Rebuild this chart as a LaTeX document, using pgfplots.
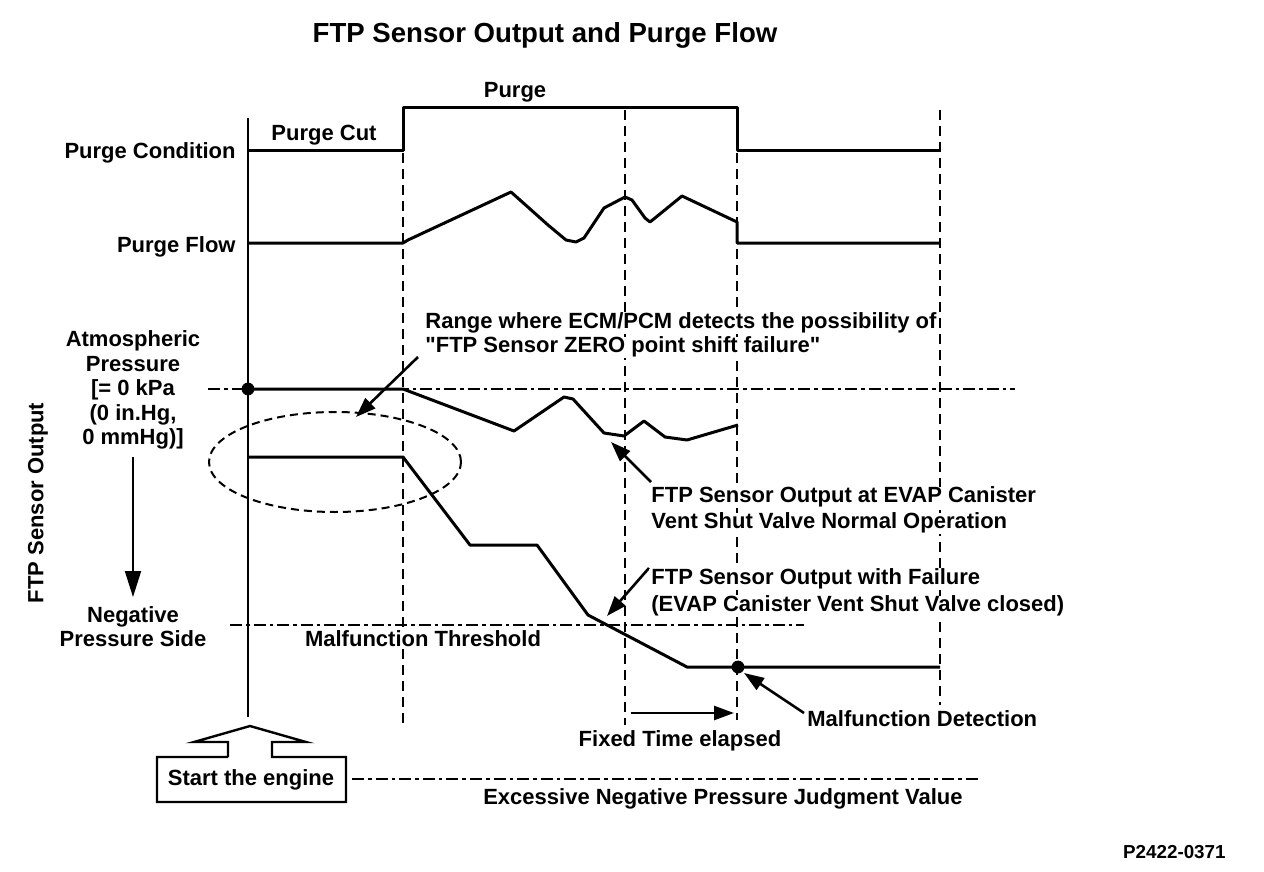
\documentclass[border=0pt]{standalone}
\usepackage{fontspec}
\setmainfont{Liberation Sans}[Ligatures=TeXOff]
\usepackage{pgfplots}
\pgfplotsset{compat=1.18}
\usetikzlibrary{arrows.meta}
\begin{document}
\begin{tikzpicture}[
  lbl/.style={font=\bfseries\fontsize{11}{13}\selectfont, fill=white, inner xsep=1pt, inner ysep=0pt},
  vdash/.style={line width=1pt, dash pattern=on 5pt off 3pt},
  dashdot/.style={line width=1pt, dash pattern=on 6pt off 2pt on 1.8pt off 2pt},
  main/.style={line width=1.5pt, line join=round},
  arr/.style={line width=1.3pt, -{Triangle[length=10pt,width=7pt]}},
]
\begin{axis}[
  scale only axis, width=632pt, height=436pt,
  xmin=0, xmax=1264, ymin=0, ymax=872, y dir=reverse,
  hide axis, clip=false,
]
\path (axis cs:0,0) rectangle (axis cs:1264,872);
% start line
\addplot[line width=1pt] coordinates {(248,118) (248,717)};
% dashed verticals
\addplot[vdash] coordinates {(403,153) (403,725)};
\addplot[vdash] coordinates {(625,110) (625,725)};
\addplot[vdash] coordinates {(737,153) (737,720)};
\addplot[vdash] coordinates {(940,110) (940,705)};
% dash-dot horizontals
\addplot[dashdot] coordinates {(208,389) (1015,389)};
\addplot[dashdot] coordinates {(230,625) (804,625)};
\addplot[dashdot] coordinates {(352,779) (978,779)};
% purge condition
\addplot[main] coordinates {(248,151) (403,151) (403,108) (737,108) (737,151) (940,151)};
% purge flow
\addplot[main] coordinates {(248,243) (403,243) (408,240) (511,192) (548,225) (566,240) (576,242) (584,238) (604,208) (625,197) (632,200) (645,218) (650,222) (655,218) (682,196) (737,222) (737,243) (940,243)};
% FTP normal
\addplot[main] coordinates {(248,389) (403,389) (514,431) (564,397) (573,399) (604,433) (624,436) (644,421) (665,437) (687,440) (738,425)};
% FTP failure
\addplot[main] coordinates {(248,457) (403,457) (470,545) (537,545) (588,615) (687,667) (940,667)};
% dots
\addplot[only marks, mark=*, mark size=3pt, black] coordinates {(248,389) (738,667)};
% ellipse
\draw[line width=1pt, dash pattern=on 4pt off 2.5pt] (axis cs:335,462) ellipse [x radius=63pt, y radius=25pt];
% arrows
\addplot[arr] coordinates {(418,357) (356,417)};
\addplot[arr] coordinates {(651,482) (611,442)};
\addplot[arr] coordinates {(649,568) (607,616)};
\addplot[arr] coordinates {(804,713) (744,673)};
\addplot[arr] coordinates {(631,713) (734,713)};
\addplot[line width=1pt, -{Triangle[length=13pt,width=8pt]}] coordinates {(133,457) (133,597)};
% start box with arrow
\addplot[line width=1.2pt, line join=miter] coordinates {(228,757) (228,742) (194,742) (250,726) (306,742) (272,742) (272,757) (346,757) (346,802) (157,802) (157,757) (228,757)};
\end{axis}
% labels on top (same pixel grid as the axis: 1 unit = 0.5pt, y downwards)
\begin{scope}[shift={(current axis.north west)}, x=0.5pt, y=-0.5pt]
\node[lbl, font=\bfseries\fontsize{13.8}{16}\selectfont, anchor=base] at (545,43) {FTP Sensor Output and Purge Flow};
\node[lbl, anchor=base] at (515,98) {Purge};
\node[lbl, anchor=base] at (324,141) {Purge Cut};
\node[lbl, anchor=base east] at (238,159) {Purge Condition};
\node[lbl, anchor=base east] at (238,253) {Purge Flow};
\node[lbl, anchor=base] at (133,347) {Atmospheric};
\node[lbl, anchor=base] at (133,372) {Pressure};
\node[lbl, anchor=base] at (133,396) {[= 0 kPa};
\node[lbl, anchor=base] at (133,421) {(0 in.Hg,};
\node[lbl, anchor=base] at (133,445) {0 mmHg)]};
\node[lbl, anchor=base] at (133,623) {Negative};
\node[lbl, anchor=base] at (133,647) {Pressure Side};
\node[lbl, rotate=90, anchor=center] at (38,503) {FTP Sensor Output};
\node[lbl, anchor=base] at (423,647) {Malfunction Threshold};
\node[lbl, anchor=base west] at (423,329) {Range where ECM/PCM detects the possibility of};
\node[lbl, anchor=base west] at (423,353) {"FTP Sensor ZERO point shift failure"};
\node[lbl, anchor=base west] at (649,503) {FTP Sensor Output at EVAP Canister};
\node[lbl, anchor=base west] at (649,529) {Vent Shut Valve Normal Operation};
\node[lbl, anchor=base west] at (649,585) {FTP Sensor Output with Failure};
\node[lbl, anchor=base west] at (649,612) {(EVAP Canister Vent Shut Valve closed)};
\node[lbl, anchor=base west] at (805,727) {Malfunction Detection};
\node[lbl, anchor=base] at (680,747) {Fixed Time elapsed};
\node[lbl, anchor=base] at (251,786) {Start the engine};
\node[lbl, anchor=base] at (723,805) {Excessive Negative Pressure Judgment Value};
\node[lbl, font=\bfseries\fontsize{9.4}{11}\selectfont, anchor=base east] at (1228,859) {P2422-0371};
\end{scope}
\end{tikzpicture}
\end{document}
